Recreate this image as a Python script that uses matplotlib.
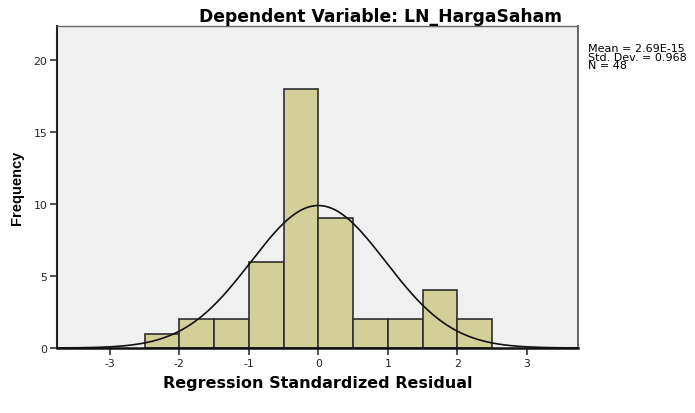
import numpy as np
from matplotlib import pyplot as plt

plt.rcParams['font.family'] = ['Liberation Sans', 'DejaVu Sans']
plt.rcParams['axes.unicode_minus'] = False

bin_edges = [-2.5, -2.0, -1.5, -1.0, -0.5, 0.0, 0.5, 1.0, 1.5, 2.0, 2.5]
counts = [1, 2, 2, 6, 18, 9, 2, 2, 4, 2]
mean = 2.69e-15
std = 0.968
n = 48

fig = plt.figure(figsize=(6.95, 4.14), dpi=100)
ax = fig.add_axes([0.082, 0.157, 0.750, 0.778])
ax.set_facecolor('#f0f0f0')

left = np.array(bin_edges[:-1])
width = np.diff(bin_edges)
ax.bar(left, counts, width=width, align='edge', color='#d3cf98',
       edgecolor='#2f2f2f', linewidth=1.2, zorder=2)

# normal curve scaled to the histogram
xs = np.linspace(-3.76, 3.74, 400)
bw = 0.5
ys = n * bw / (std * np.sqrt(2 * np.pi)) * np.exp(-0.5 * ((xs - mean) / std) ** 2)
ax.plot(xs, ys, color='#111111', linewidth=1.2, zorder=3)

ax.set_xlim(-3.76, 3.74)
ax.set_ylim(0, 22.36)
ax.set_xticks([-3, -2, -1, 0, 1, 2, 3])
ax.set_yticks([0, 5, 10, 15, 20])
ax.tick_params(axis='both', labelsize=8.5, length=5, width=1.2, color='#333333', pad=2)
for lab in ax.get_xticklabels() + ax.get_yticklabels():
    lab.set_family(['DejaVu Sans'])
    lab.set_fontsize(7.8)
    lab.set_color('#222222')

ax.spines['left'].set_linewidth(1.5)
ax.spines['bottom'].set_linewidth(1.8)
ax.spines['left'].set_color('#222222')
ax.spines['bottom'].set_color('#111111')
ax.spines['top'].set_color('#666666')
ax.spines['right'].set_color('#666666')
ax.spines['top'].set_linewidth(1.0)
ax.spines['right'].set_linewidth(1.4)

ax.set_xlabel('Regression Standardized Residual', fontsize=11.5, fontweight='bold',
              family=['DejaVu Sans'], labelpad=5)
ax.set_ylabel('Frequency', fontsize=10.5, fontweight='bold', labelpad=7)
fig.text(0.547, 0.96, 'Dependent Variable: LN_HargaSaham', ha='center', va='center',
         fontsize=12.3, fontweight='bold', family=['DejaVu Sans'])

fig.text(0.846, 0.893, 'Mean = 2.69E-15\nStd. Dev. = 0.968\nN = 48', ha='left', va='top',
         fontsize=8, linespacing=0.78, family=['DejaVu Sans'])

fig.savefig('out.png', dpi=100)
